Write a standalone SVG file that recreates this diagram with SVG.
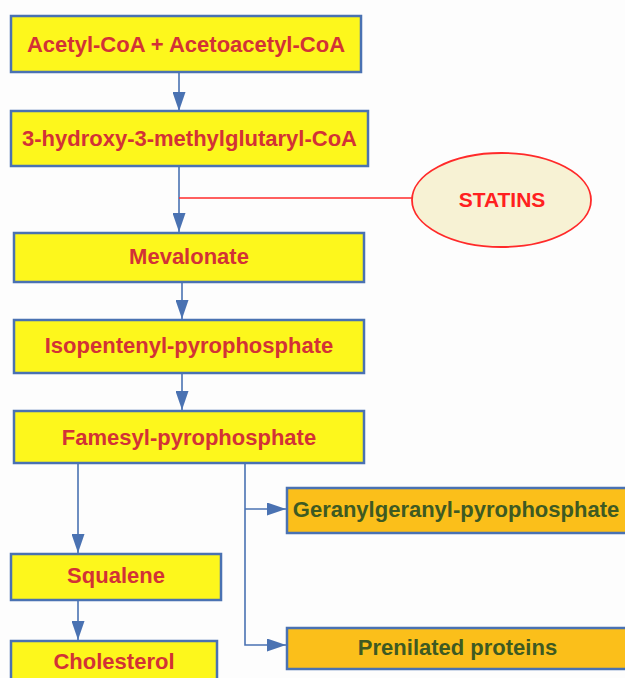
<svg xmlns="http://www.w3.org/2000/svg" width="625" height="678" viewBox="0 0 625 678">
<style>
.box{fill:#fdf71c;stroke:#4a72b2;stroke-width:2.5}
.obox{fill:#fbbf1a;stroke:#4a72b2;stroke-width:2.5}
.t{font-family:"Liberation Sans",Arial,sans-serif;font-weight:bold;font-size:22px;fill:#d23236;text-anchor:middle}
.g{fill:#3e5a22}
.c{fill:none;stroke:#4a72b2;stroke-width:1.6}
.inh{fill:none;stroke:#ff2a2a;stroke-width:1.6}
</style>
<defs>
<marker id="ah" markerUnits="userSpaceOnUse" markerWidth="19" markerHeight="13" refX="19" refY="6.5" orient="auto">
<path d="M0,0 L19,6.5 L0,13 Z" fill="#4a72b2"/>
</marker>
</defs>
<rect width="625" height="678" fill="#fdfdfd"/>
<g id="connectors">
<path class="c" d="M179,72 V111" marker-end="url(#ah)"/>
<path class="c" d="M179,166 V232" marker-end="url(#ah)"/>
<path class="c" d="M182,282 V319" marker-end="url(#ah)"/>
<path class="c" d="M182,373 V410" marker-end="url(#ah)"/>
<path class="c" d="M78,463 V553" marker-end="url(#ah)"/>
<path class="c" d="M78,600 V640" marker-end="url(#ah)"/>
<path class="c" d="M245,463 V645 H286" marker-end="url(#ah)"/>
<path class="c" d="M245,509 H286" marker-end="url(#ah)"/>
<path class="inh" d="M179,198 H412"/>
</g>
<g id="acetyl">
<rect class="box" x="11" y="16" width="350" height="56"/>
<text class="t" x="186" y="52">Acetyl-CoA + Acetoacetyl-CoA</text>
</g>
<g id="hmg">
<rect class="box" x="11" y="111" width="357" height="55"/>
<text class="t" x="189.5" y="146">3-hydroxy-3-methylglutaryl-CoA</text>
</g>
<g id="statins">
<ellipse cx="501.5" cy="200" rx="89.5" ry="47" fill="#f7f2d4" stroke="#ff2a2a" stroke-width="1.8"/>
<text class="t" x="502" y="207" style="fill:#ff2020;font-size:21px">STATINS</text>
</g>
<g id="mevalonate">
<rect class="box" x="14" y="233" width="350" height="49"/>
<text class="t" x="189" y="264">Mevalonate</text>
</g>
<g id="isopentenyl">
<rect class="box" x="14" y="320" width="350" height="53"/>
<text class="t" x="189" y="353">Isopentenyl-pyrophosphate</text>
</g>
<g id="famesyl">
<rect class="box" x="14" y="411" width="350" height="52"/>
<text class="t" x="189" y="445">Famesyl-pyrophosphate</text>
</g>
<g id="squalene">
<rect class="box" x="11" y="554" width="210" height="46"/>
<text class="t" x="116" y="583">Squalene</text>
</g>
<g id="cholesterol">
<rect class="box" x="11" y="641" width="206" height="50"/>
<text class="t" x="114" y="669">Cholesterol</text>
</g>
<g id="geranylgeranyl">
<rect class="obox" x="287" y="488" width="341" height="45"/>
<text class="t g" x="456" y="517">Geranylgeranyl-pyrophosphate</text>
</g>
<g id="prenilated">
<rect class="obox" x="287" y="628" width="341" height="41"/>
<text class="t g" x="457.5" y="655">Prenilated proteins</text>
</g>
</svg>
